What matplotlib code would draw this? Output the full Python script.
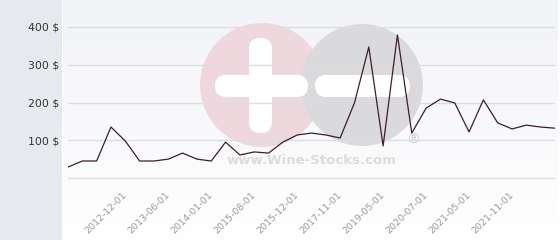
import numpy as np
import matplotlib
matplotlib.use("Agg")
import matplotlib.pyplot as plt
from matplotlib.patches import Circle, FancyBboxPatch, Rectangle

# -----------------------------
# DATA
# -----------------------------
prices = [29, 45, 45, 135, 98, 45, 45, 50, 66, 50,
          45, 95, 61, 69, 66, 95, 114, 119, 114, 106,
          199, 347, 85, 379, 119, 185, 209, 199, 122, 207,
          146, 130, 140, 135, 132]

tick_idx = [4, 7, 10, 13, 16, 19, 22, 25, 28, 31]
tick_labels = ["2012-12-01", "2013-06-01", "2014-01-01", "2015-08-01", "2015-12-01",
               "2017-11-01", "2019-05-01", "2020-07-01", "2021-05-01", "2021-11-01"]

y_ticks = [0, 100, 200, 300, 400]
y_labels = ["", "100 $", "200 $", "300 $", "400 $"]

# -----------------------------
# FIGURE / BACKGROUND
# -----------------------------
W, H = 560, 240
fig = plt.figure(figsize=(W / 100, H / 100), dpi=100)
fig.patch.set_facecolor("white")

def px(x0, y0, x1, y1):
    # pixel box (top-left origin) -> figure fraction rect
    return [x0 / W, 1 - y1 / H, (x1 - x0) / W, (y1 - y0) / H]

fig.patches.append(Rectangle((0, 0), 62 / W, 1, transform=fig.transFigure,
                             facecolor="#e6eaee", edgecolor="none", zorder=0))

bg = fig.add_axes(px(63, 0, 558, 240), zorder=0)
grad = np.linspace(0, 1, 256).reshape(-1, 1)
bg.imshow(grad, aspect="auto", extent=(0, 1, 0, 1),
          cmap=matplotlib.colors.LinearSegmentedColormap.from_list("g", ["#f2f3f7", "#ffffff"]))
bg.set_axis_off()

# watermark
wm = fig.add_axes(px(0, 0, W, H), zorder=1)
wm.set_xlim(0, W)
wm.set_ylim(H, 0)
wm.set_axis_off()
wm.add_patch(Circle((262, 85), 62, facecolor="#eed8de", edgecolor="none"))
wm.add_patch(Circle((362, 85), 61, facecolor="#dadadc", edgecolor="none"))
wm.add_patch(FancyBboxPatch((249, 38), 23, 95, boxstyle="round,pad=0,rounding_size=11",
                            facecolor="white", edgecolor="none"))
wm.add_patch(FancyBboxPatch((215, 75), 93, 22, boxstyle="round,pad=0,rounding_size=11",
                            facecolor="white", edgecolor="none"))
wm.add_patch(FancyBboxPatch((315, 75), 95, 22, boxstyle="round,pad=0,rounding_size=11",
                            facecolor="white", edgecolor="none"))
wm.text(312, 161, "www.Wine-Stocks.com", ha="center", va="center",
        fontsize=9.5, fontweight="bold", color="#dcdcdc")
wm.text(413, 140, "®", ha="center", va="center", fontsize=10, color="#d0d0d0")

# -----------------------------
# CHART
# -----------------------------
ax = fig.add_axes(px(68, 10, 555, 185), zorder=2)
ax.patch.set_alpha(0)
x = np.arange(len(prices))
ax.plot(x, prices, color="#3b1f2b", lw=0.9, zorder=3)

ax.set_xlim(0, len(prices) - 1)
y_bottom = -(185 - 178) / 37.75 * 100
y_top = (178 - 10) / 37.75 * 100
ax.set_ylim(y_bottom, y_top)

ax.set_yticks(y_ticks)
ax.set_yticklabels(y_labels, fontsize=7.8, color="#333333")
ax.set_xticks(tick_idx)
ax.set_xticklabels(tick_labels, rotation=45, ha="right", va="center",
                   rotation_mode="anchor", fontsize=6.8, color="#9a9a9a")
ax.tick_params(axis="both", length=0)
ax.tick_params(axis="y", pad=6.5)
ax.tick_params(axis="x", pad=6)
ax.grid(axis="y", color="#dcdde1", lw=1)
ax.grid(axis="x", visible=False)
for s in ax.spines.values():
    s.set_visible(False)

fig.savefig("out.png", dpi=100)
